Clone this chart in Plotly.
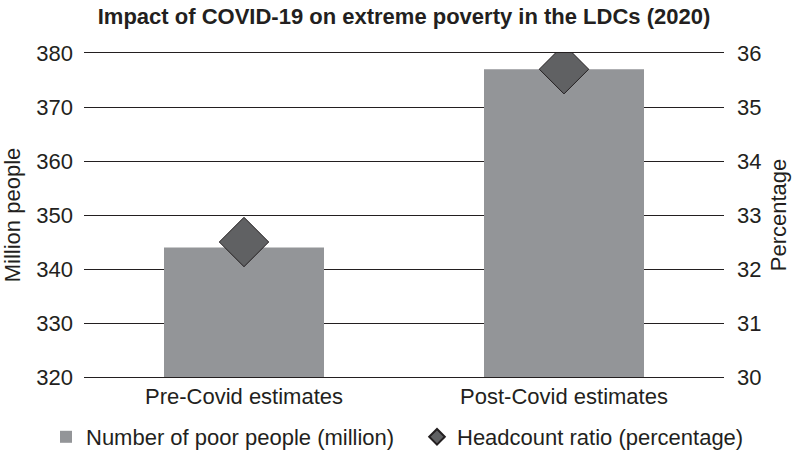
import plotly.graph_objects as go

categories = ["Pre-Covid estimates", "Post-Covid estimates"]
poor_people = [344, 377]
headcount = [32.5, 35.7]

font = "Liberation Sans, Arial, sans-serif"
fs = 22
W, H = 792, 451

fig = go.Figure()
fig.add_trace(go.Bar(
    x=categories, y=poor_people, name="Number of poor people (million)",
    marker=dict(color="#939598", line=dict(width=0)), width=0.5, yaxis="y",
    legend="legend",
))
fig.add_trace(go.Scatter(
    x=categories, y=headcount, name="Headcount ratio (percentage)", mode="markers",
    marker=dict(symbol="diamond", size=38, color="#606163", line=dict(color="#231f20", width=1)),
    yaxis="y2", legend="legend2",
))

leg_common = dict(orientation="h", xanchor="left", xref="container",
                  y=(H - 437) / H, yanchor="middle", yref="container",
                  font=dict(size=fs), itemsizing="constant", bgcolor="rgba(0,0,0,0)")

fig.update_layout(
    width=W, height=H,
    margin=dict(l=84, r=68, t=53, b=74, autoexpand=False),
    paper_bgcolor="white", plot_bgcolor="white",
    font=dict(family=font, size=fs, color="#231f20"),
    title=dict(text="<b>Impact of COVID-19 on extreme poverty in the LDCs (2020)</b>",
               x=0.5, xanchor="center", xref="paper", y=(H - 16) / H, yanchor="middle",
               font=dict(size=22)),
    showlegend=True,
    legend=dict(x=46 / W, **leg_common),
    legend2=dict(x=417 / W, **leg_common),
    bargap=0.5,
    xaxis=dict(showgrid=False, showline=True, mirror=True, linecolor="#231f20", linewidth=1,
               ticks="", tickfont=dict(size=fs), automargin=False),
    yaxis=dict(range=[320, 380], dtick=10, showgrid=True, gridcolor="#231f20", gridwidth=1,
               zeroline=False, showline=False, ticks="", ticklabelstandoff=10, automargin=False,
               title=dict(text="Million people", standoff=10, font=dict(size=fs))),
    yaxis2=dict(range=[30, 36], dtick=1, overlaying="y", side="right", showgrid=False,
                zeroline=False, showline=False, ticks="", ticklabelstandoff=12, automargin=False,
                title=dict(text="Percentage", standoff=10, font=dict(size=fs))),
)

fig.write_html("out.html")
